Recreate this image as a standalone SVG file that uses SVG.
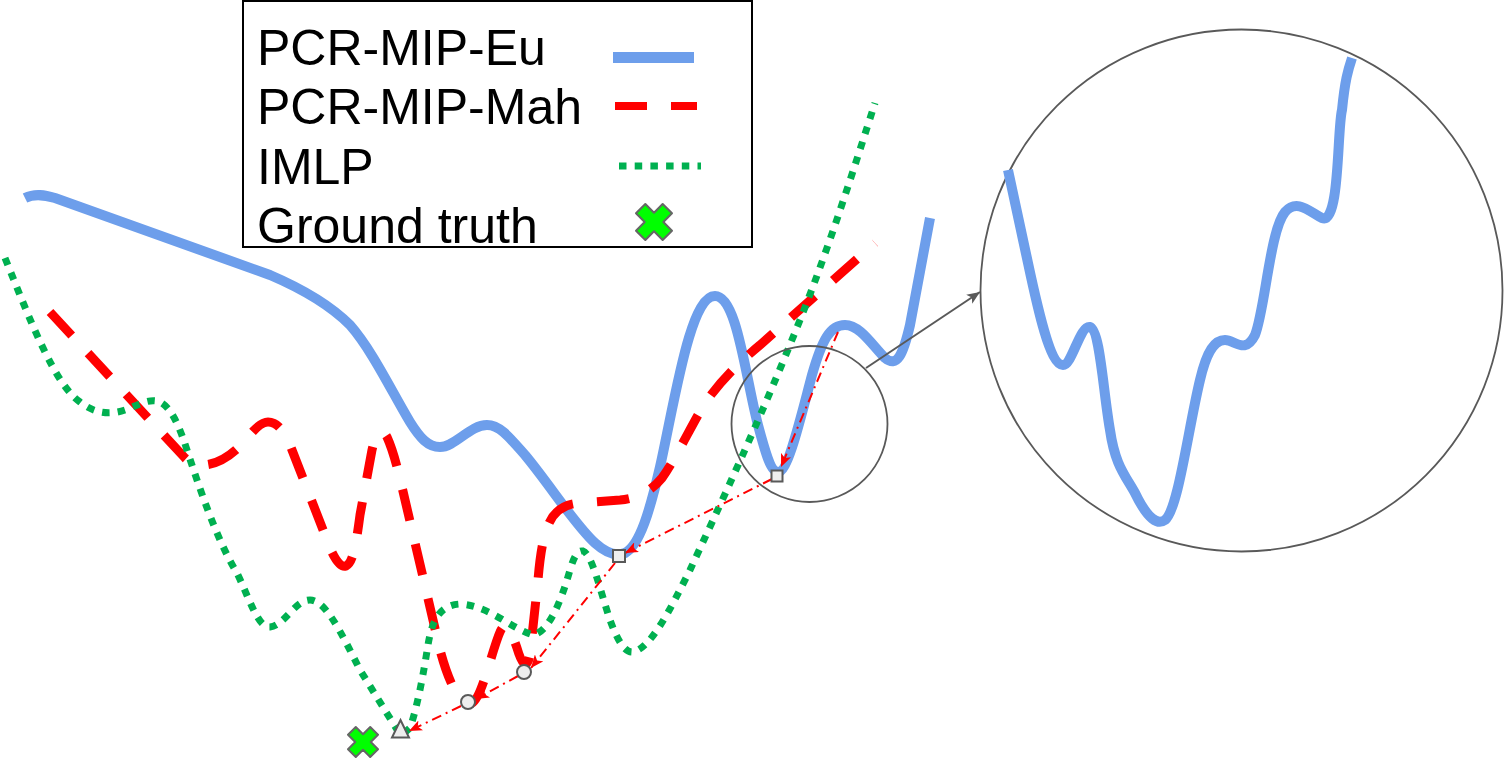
<svg xmlns="http://www.w3.org/2000/svg" width="1505" height="758" viewBox="0 0 1505 758">
<style>
.eu{fill:none;stroke:#6d9eeb;stroke-width:10;stroke-linejoin:round}
.mah{fill:none;stroke:#ff0000;stroke-width:9;stroke-dasharray:32 24}
.imlp{fill:none;stroke:#00b050;stroke-width:7;stroke-dasharray:7.5 8.2}
.trace{fill:none;stroke:#ff0000;stroke-width:2;stroke-dasharray:10 5 2 5;marker-end:url(#ra)}
.lens{fill:none;stroke:#595959;stroke-width:1.8}
.mk{fill:#eeeeee;stroke:#595959;stroke-width:2}
.gt{fill:#00ff00;stroke:#666666;stroke-width:2;stroke-linejoin:round}
.lbl{font-family:"Liberation Sans",Arial,sans-serif;font-size:50px;fill:#000}
</style>
<defs>
<marker id="ra" viewBox="0 0 12 10" refX="12" refY="5" markerWidth="13" markerHeight="11" markerUnits="userSpaceOnUse" orient="auto">
<path d="M0,0 L12,5 L0,10 L3,5 Z" fill="#ff0000"/>
</marker>
<marker id="ga" viewBox="0 0 12 10" refX="12" refY="5" markerWidth="13" markerHeight="11" markerUnits="userSpaceOnUse" orient="auto">
<path d="M0,0 L12,5 L0,10 L3,5 Z" fill="#595959"/>
</marker>
<path id="xshape" d="M-5.5,-15.7 L5.5,-15.7 L5.5,-5.5 L15.7,-5.5 L15.7,5.5 L5.5,5.5 L5.5,15.7 L-5.5,15.7 L-5.5,5.5 L-15.7,5.5 L-15.7,-5.5 L-5.5,-5.5 Z" transform="rotate(45)"/>
</defs>
<rect width="1505" height="758" fill="#ffffff"/>

<g id="legend">
<rect x="243" y="1" width="509" height="246" fill="#ffffff" stroke="#000000" stroke-width="2"/>
<text class="lbl" x="257" y="65">PCR-MIP-Eu</text>
<text class="lbl" x="257" y="124">PCR-MIP-Mah</text>
<text class="lbl" x="257" y="184">IMLP</text>
<text class="lbl" x="257" y="243">Ground truth</text>
<line x1="613" y1="57.5" x2="694" y2="57.5" stroke="#6d9eeb" stroke-width="11"/>
<line x1="615" y1="106" x2="697" y2="106" class="mah" style="stroke-width:8"/>
<line x1="619" y1="166" x2="701" y2="166" class="imlp"/>
<g transform="translate(654,222) scale(1.2)"><use href="#xshape" class="gt" style="stroke-width:1.7"/></g>
</g>

<g id="curve-eu">
<path class="eu" d="M25,198 C35,193 45,195 55,198 L270,275 C305,290 330,305 350,325 C372,350 392,392 410,422 C420,438 428,447 440,447 C455,447 470,425 487,425 C500,425 510,438 525,455 C550,485 575,525 595,543 C605,552 615,557 625,553 C640,545 650,510 660,467 C675,400 690,296 715,296 C737,296 745,375 758,425 C766,455 771,472 778,472 C788,472 800,420 812,375 C822,340 830,325 845,325 C860,325 872,345 885,358 C897,368 903,355 910,325 L930,218"/>
</g>
<g id="curve-mah">
<path class="mah" d="M50,312 L185,458 C198,471 220,465 238,448 C250,436 258,422 268,422 C278,422 285,432 292,450 L325,535 C333,558 340,568 346,566 C353,563 356,545 360,515 L372,450 C376,432 382,428 387,437 C393,450 398,470 402,487 L440,650 C448,680 460,708 472,703 C482,698 492,650 500,632 C505,620 510,628 517,648 C522,665 527,670 530,655 L538,580 C543,520 553,505 580,503 L620,500 C640,498 652,490 662,478 C675,460 690,428 705,403 C720,382 735,366 760,345 L875,243"/>
</g>
<g id="curve-imlp">
<path class="imlp" d="M5,258 C30,320 55,385 80,402 C95,414 110,415 125,410 C140,404 150,398 160,402 C172,408 180,428 188,453 C205,505 220,545 237,573 C250,600 258,628 270,627 C285,625 295,600 310,600 C325,600 340,630 360,670 L401,736 L410,728 C418,705 424,670 428,645 C432,620 440,605 460,604 C490,606 510,628 533,635 C548,632 560,605 570,570 C574,556 578,550 583,551 C592,554 600,590 610,620 C618,642 625,652 632,652 C650,650 670,610 690,570 C720,505 760,420 800,320 C830,245 855,165 875,103"/>
</g>

<g id="lens-small"><circle class="lens" cx="809.5" cy="424" r="78"/></g>
<g id="lens-big">
<circle class="lens" cx="1241.5" cy="290.5" r="261"/>
<path class="eu" d="M1008,170 L1028,263 C1038,310 1050,365 1063,365 C1072,365 1080,325 1090,327 C1100,330 1103,390 1110,430 C1115,465 1125,475 1135,493 C1148,520 1158,525 1165,520 C1178,510 1188,430 1200,380 C1207,350 1215,340 1225,340 C1235,340 1245,355 1255,335 C1265,310 1270,230 1285,212 C1297,198 1310,212 1322,218 C1340,225 1337,130 1342,110 C1345,80 1348,70 1352,58"/>
</g>

<g id="connectors">
<line x1="866" y1="368" x2="980" y2="292" stroke="#595959" stroke-width="2" marker-end="url(#ga)"/>
<line class="trace" x1="838" y1="332" x2="781" y2="467"/>
<line class="trace" x1="772" y1="479" x2="625" y2="553"/>
<line class="trace" x1="615" y1="563" x2="531" y2="668"/>
<line class="trace" x1="518" y1="676" x2="476" y2="699"/>
<line class="trace" x1="461" y1="706" x2="409" y2="731"/>
</g>

<g id="m-square-2"><rect class="mk" x="771.5" y="470.5" width="11" height="11"/></g>
<g id="m-square-1"><rect class="mk" x="613" y="550" width="12" height="12"/></g>
<g id="m-circle-2"><circle class="mk" cx="524" cy="672" r="7"/></g>
<g id="m-circle-1"><circle class="mk" cx="468" cy="702" r="7"/></g>
<g id="m-triangle"><polygon class="mk" points="400.5,720 409,737.5 392,737.5"/></g>
<g id="ground-truth" transform="translate(363,742)"><use href="#xshape" class="gt"/></g>
</svg>
